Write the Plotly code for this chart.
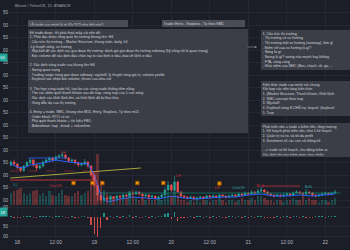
import plotly.graph_objects as go

# ---------------- data ----------------
hours = list(range(-2, 100))  # hours since 18th 00:00

opens = [26340, 26352, 26344, 26330, 26318, 26336,
         26350, 26360, 26340, 26328, 26336, 26352, 26360, 26368, 26360, 26372, 26376, 26380, 26368, 26356, 26360, 26348, 26340, 26344, 26352,
         26336, 26300, 26260, 26220, 26200, 26208, 26204, 26212,
         26208, 26216, 26212, 26220, 26216, 26228, 26224, 26232, 26224, 26216, 26220, 26212, 26216, 26208, 26212,
         26220, 26240, 26260, 26240, 26272,
         26232, 26216, 26212, 26208, 26212, 26204, 26208, 26212, 26208, 26216,
         26212, 26216, 26212, 26220, 26216, 26212, 26216, 26220, 26216, 26224,
         26220, 26228, 26224, 26232, 26228, 26236, 26240, 26232, 26224, 26220,
         26216, 26220, 26216, 26220, 26224, 26220, 26228, 26232, 26228, 26224,
         26232, 26228, 26220, 26216, 26220, 26224, 26228, 26224, 26228]
closes = [26352, 26344, 26330, 26318, 26336, 26350,
          26360, 26340, 26328, 26336, 26352, 26360, 26368, 26360, 26372, 26376, 26380, 26368, 26356, 26360, 26348, 26340, 26344, 26352, 26336,
          26300, 26260, 26220, 26200, 26208, 26204, 26212, 26208,
          26216, 26212, 26220, 26216, 26228, 26224, 26232, 26224, 26216, 26220, 26212, 26216, 26208, 26212, 26220,
          26240, 26260, 26240, 26272, 26232,
          26216, 26212, 26208, 26212, 26204, 26208, 26212, 26208, 26216, 26212,
          26216, 26212, 26220, 26216, 26212, 26216, 26220, 26216, 26224, 26220,
          26228, 26224, 26232, 26228, 26236, 26240, 26232, 26224, 26220, 26216,
          26220, 26216, 26220, 26224, 26220, 26228, 26232, 26228, 26224, 26232,
          26228, 26220, 26216, 26220, 26224, 26228, 26224, 26228, 26232]
highs = [26358, 26362, 26348, 26334, 26340, 26356,
         26368, 26364, 26346, 26342, 26358, 26366, 26374, 26372, 26380, 26384, 26392, 26384, 26372, 26366, 26364, 26354, 26350, 26364, 26356,
         26340, 26306, 26270, 26230, 26226, 26216, 26218, 26216,
         26222, 26220, 26226, 26224, 26234, 26240, 26238, 26236, 26228, 26226, 26224, 26222, 26218, 26218, 26228,
         26250, 26276, 26264, 26296, 26278,
         26236, 26220, 26216, 26218, 26216, 26214, 26218, 26216, 26222, 26220,
         26222, 26220, 26226, 26224, 26220, 26222, 26226, 26224, 26230, 26228,
         26234, 26232, 26240, 26236, 26246, 26252, 26244, 26236, 26228, 26224,
         26226, 26224, 26226, 26230, 26228, 26234, 26240, 26236, 26232, 26244,
         26236, 26232, 26224, 26226, 26230, 26234, 26232, 26234, 26240]
lows = [26334, 26338, 26322, 26310, 26312, 26332,
        26344, 26332, 26316, 26322, 26330, 26348, 26354, 26352, 26356, 26366, 26370, 26362, 26350, 26350, 26342, 26334, 26334, 26338, 26326,
        26292, 26250, 26196, 26188, 26194, 26196, 26198, 26202,
        26204, 26206, 26208, 26210, 26212, 26218, 26220, 26218, 26210, 26212, 26206, 26208, 26202, 26204, 26208,
        26216, 26236, 26232, 26236, 26226,
        26208, 26206, 26202, 26204, 26198, 26200, 26204, 26202, 26204, 26206,
        26208, 26206, 26208, 26210, 26206, 26208, 26212, 26210, 26212, 26214,
        26216, 26218, 26220, 26222, 26224, 26230, 26226, 26218, 26214, 26210,
        26212, 26210, 26212, 26216, 26214, 26216, 26224, 26222, 26218, 26220,
        26222, 26214, 26210, 26212, 26216, 26220, 26218, 26220, 26224]
volume = [7, 8, 9, 10, 7, 6,
          7, 8, 9, 6, 7, 5, 8, 6, 5, 7, 9, 6, 5, 5, 7, 8, 6, 7, 8,
          12, 20, 30, 14, 9, 7, 6, 5,
          5, 4, 6, 4, 8, 5, 4, 3, 4, 3, 4, 3, 3, 4, 3,
          5, 7, 5, 9, 6,
          3, 3, 2, 3, 2, 3, 2, 3, 3, 2,
          3, 3, 4, 3, 2, 3, 3, 2, 3, 4,
          3, 3, 4, 3, 5, 5, 4, 3, 3, 2,
          3, 3, 2, 3, 3, 4, 3, 3, 5, 3,
          4, 3, 3, 2, 3, 3, 2, 3, 4]
osc = [0.2, -0.3, -0.4, -0.3, 0.3, 0.2,
       0.3, -0.2, -0.3, 0.2, 0.3, 0.2, 0.4, -0.2, 0.3, 0.2, 0.3, -0.3, -0.3, 0.2, -0.3, -0.3, 0.2, 0.3, -0.4,
       -2.5, -5.5, -6.3, -3.5, 1.2, -1.0, 0.4, -0.3,
       0.3, -0.2, 0.4, -0.2, 0.5, -0.3, 0.3, -0.3, -0.2, 0.2, -0.3, 0.2, -0.2, 0.2, 0.4,
       0.9, 1.2, -0.8, 1.6, -1.4,
       -0.4, -0.2, -0.2, 0.2, -0.3, 0.2, 0.2, -0.2, 0.3, -0.2,
       0.2, -0.2, 0.3, -0.2, -0.2, 0.2, 0.2, -0.2, 0.3, -0.2,
       0.3, -0.2, 0.3, -0.2, 0.4, 0.3, -0.3, -0.4, -0.2, -0.2,
       0.2, -0.2, 0.2, 0.2, -0.2, 0.3, 0.3, -0.2, 0.4, -0.3,
       -0.3, -0.2, 0.2, 0.2, 0.2, -0.2, 0.2, 0.2, 0.3]

blue_h = [-2, 0, 2, 4, 8, 12, 16, 20, 22, 24, 26, 28, 32, 36, 40, 44, 48, 52, 56, 60,
          64, 68, 72, 76, 80, 84, 88, 92, 96, 99]
blue_p = [26344, 26332, 26328, 26340, 26348, 26360, 26352, 26348, 26344, 26300, 26220, 26192,
          26204, 26212, 26208, 26204, 26216, 26208, 26204, 26208, 26212, 26212, 26220, 26224,
          26216, 26216, 26220, 26216, 26220, 26224]
yellow_h = [-2.2, 38.5]
yellow_p = [26288, 26328]
red_h = [-2.2, 23.4, 23.4]
red_p = [26280, 26280, 26316]
redash_h = [-2.2, 22]
redash_p = [26316, 26316]
bluelvl_h = [3.4, 15.6]
bluelvl_p = [26368, 26368]
greenlvl_h = [24.3, 100.7]
greenlvl_p = [26228, 26228]
red2_h = [76.4, 88.2]
red2_p = [26256, 26256]

marker_h = [17.5, 23.4, 26.5, 37.4, 45.5, 63.0]
marker_p = [26268, 26268, 26268, 26268, 26268, 26266]

label_text = ["LL", "ChoCH", "LH", "LH", "LH", "ChoCH", "BoS", "BoS"]
label_h = [-0.6, 11.8, 14.3, 50.2, 62.3, 68.9, 75.7, 90.7]
label_p = [26258, 26256, 26388, 26296, 26248, 26248, 26256, 26252]
label_up = [True, False, False, False, False, True, False, True]

x_tickvals = [0, 12, 24, 36, 48, 60, 72, 84, 96]
x_ticktext = ["18", "12:00", "19", "12:00", "20", "12:00", "21", "12:00", "22"]
# left price scale: only the trailing digits are visible in the screenshot
price_ticks = [26200, 26250, 26300, 26350, 26400, 26450, 26500, 26550, 26600,
               26650, 26700, 26750, 26800, 26850, 26900, 26950]
price_ticktext = ["00", "50", "00", "50", "00", "50", "00", "50", "00",
                  "50", "00", "50", "00", "50", "00", "50"]
osc_ticks = [-6, -3, 3]
osc_ticktext = ["00", "50", "00"]
last_price_text = "50"
last_osc_text = "18"

title_text = "Bitcoin / TetherUS, 15, BINANCE"
q1_text = "Lỗi trade của mình là gì (Dc?17) như thế nào?"
q2_text = "Trader Entry , Stoploss , Tp theo SMC"
main_lines = [
    "Để trade được, thì phải thoả mãy cái nền đề:",
    "1. Phải đọc được tổng quát thị trường khung lớn: H4",
    "- Cấu trúc thị trường – Market Structure, khung tuần, daily, h4",
    "-Lý thuyết sóng, xu hướng",
    "- Wyckoff để xác định các giai đoạn thị trường: đánh giá giai đoạn thị trường sideway (kỹ năng rất là quan trọng)",
    "- Đọc volume để xác định dấu chân tay to vào lệnh ở đâu, bảo về lệnh ở đâu",
    " ",
    "2. Xác định vùng trade của khung lớn H4",
    "- Swing quan trọng",
    "- Trading range trong giai đoạn sideway: wyckoff, lý thuyết vùng giá trị, volume profile",
    "- Keylevel xác nhận bởi volume, thrust của ultra vol",
    " ",
    "3. Thu hẹp vùng trade h4, loại bỏ các vùng trade không tiềm năng",
    "- Tìm các điểm quét thanh khoản sau đó trap, vùng trap của 1 con sóng",
    "- Xác định các khối lệnh lớn, và khối lệnh đã bị khai thác",
    "- Vùng dẫn dụ của thị trường",
    " ",
    "4. Entry = trade, SMC, khung nhỏ M15, Entry, Stoploss, Tp theo m15",
    "- Order block: RTO có xn",
    "- Phá quét thanh khoản + tín hiệu FBO",
    "- Bobvolman: trap , break + volconfirm",
]
right1_lines = [
    "1. Cấu trúc thị trường",
    "- Thị trường có xu hướng",
    "- Thị trường mất xu hướng (sizeway), làm gì",
    "- Điểm vỡ của xu hướng là gì?",
    "- Sóng là gì",
    "- Swing là gì? swing nào mạnh hay không",
    "- FTA, vùng cảng",
    "- Khái niệm của SMC (Bos, chọch, sk, qa, ...",
]
right2_lines = [
    "Kiến thức trade của mình nói chung",
    "Kết hợp các nền tảng kiến thức",
    "1. (Market Structure, Thanh khoản, Khối lệnh",
    "2. SMC concept theo trap",
    "3. Wyckoff",
    "4. Keylevel vùng KC/Hỗ trợ, keyvol  (keylevel",
    "5. Trap",
]
right3_lines = [
    "Phát triển vốn = trade = kiếm tiền, tăng trưởng",
    "1. Kế hoạch phát triển vốn, như 1 kế hoạch",
    "2. Quản trị rủi ro, và tối đa profit",
    "3. Sentiment về các con số thống kê",
    " ",
    "---> trade có kế hoạch, chủ động kiếm sc",
    "Xác định khi nào kiếm được bao nhiêu",
]

# ---------------- styling ----------------
BG = "#1b1e27"
UP = "#26a69a"
DN = "#ef5350"
FONT = "Liberation Sans, Arial, sans-serif"
W, H = 350, 250
ML, MR, MT, MB = 9, 0, 0, 12
PW, PH = W - ML - MR, H - MT - MB


def px(x):
    return (x - ML) / PW


def py(y):
    return 1 - (y - MT) / PH


fig = go.Figure()

vol_colors = ["rgba(38,166,154,0.32)" if c >= o else "rgba(239,83,80,0.32)" for o, c in zip(opens, closes)]
fig.add_trace(go.Bar(x=hours, y=volume, marker=dict(color=vol_colors, line=dict(width=0)),
                     width=0.75, xaxis="x", yaxis="y3"))

fig.add_trace(go.Scatter(x=yellow_h, y=yellow_p, mode="lines", line=dict(color="#a8a53a", width=1)))
fig.add_trace(go.Scatter(x=redash_h, y=redash_p, mode="lines", line=dict(color="#8e2a30", width=0.8, dash="dash")))
fig.add_trace(go.Scatter(x=red_h, y=red_p, mode="lines", line=dict(color="#c2303a", width=1)))
fig.add_trace(go.Scatter(x=bluelvl_h, y=bluelvl_p, mode="lines", line=dict(color="#2962ff", width=0.8)))
fig.add_trace(go.Scatter(x=greenlvl_h, y=greenlvl_p, mode="lines", line=dict(color="#137a6c", width=0.8)))
fig.add_trace(go.Scatter(x=red2_h, y=red2_p, mode="lines", line=dict(color="#c2303a", width=0.8)))

fig.add_trace(go.Candlestick(x=hours, open=opens, high=highs, low=lows, close=closes,
                             increasing=dict(line=dict(color=UP, width=0.6), fillcolor=UP),
                             decreasing=dict(line=dict(color=DN, width=0.6), fillcolor=DN),
                             whiskerwidth=0))
fig.add_trace(go.Scatter(x=blue_h, y=blue_p, mode="lines", line=dict(color="#2962ff", width=1)))

fig.add_trace(go.Scatter(x=marker_h, y=marker_p, mode="markers",
                         marker=dict(symbol="square", size=3.6, color="#f0960e",
                                     line=dict(color="#8a4a00", width=0.8))))
fig.add_trace(go.Scatter(x=label_h, y=label_p, mode="text", text=label_text,
                         textfont=dict(size=3.8, family=FONT,
                                       color=[UP if u else "#c2303a" for u in label_up])))

osc_colors = ["rgba(38,166,154,0.85)" if v >= 0 else "rgba(239,83,80,0.85)" for v in osc]
fig.add_trace(go.Bar(x=hours, y=osc, marker=dict(color=osc_colors, line=dict(width=0)),
                     width=0.45, xaxis="x", yaxis="y2"))

ann = []
ann.append(dict(xref="paper", yref="paper", x=px(13), y=py(6), xanchor="left", yanchor="middle",
                text=title_text, showarrow=False, font=dict(size=3.8, color="#a3a6af", family=FONT)))


def box(x0, y0, w, h, lines, bg):
    ann.append(dict(xref="paper", yref="paper", x=px(x0), y=py(y0), xanchor="left", yanchor="top",
                    width=w - 3, height=h - 3, align="left", valign="top", bgcolor=bg, borderpad=1.5,
                    borderwidth=0, showarrow=False, text="<br>".join(lines),
                    font=dict(size=3.6, color="#d1d4dc", family=FONT)))


box(28, 20, 100, 7, [q1_text], "#4a4d56")
box(162, 20, 83, 7, [q2_text], "#4a4d56")
box(28, 29, 220, 104, main_lines, "#3b3e47")
box(261, 30, 89, 40, right1_lines, "#3b3e47")
box(261, 81, 89, 35, right2_lines, "#3b3e47")
box(261, 123, 89, 34, right3_lines, "#3b3e47")

ann.append(dict(xref="paper", yref="paper", x=px(257), y=py(47), ax=-11, ay=0, text="",
                showarrow=True, arrowhead=2, arrowsize=0.7, arrowwidth=0.6, arrowcolor="#9598a1"))

ann.append(dict(xref="paper", yref="paper", x=px(8), y=py(57), xanchor="right", yanchor="middle",
                text=last_price_text, showarrow=False, bgcolor=UP, borderpad=1.2,
                font=dict(size=4, color="#ffffff", family=FONT)))
ann.append(dict(xref="paper", yref="paper", x=px(8), y=py(212), xanchor="right", yanchor="middle",
                text=last_osc_text, showarrow=False, bgcolor=UP, borderpad=1.5,
                font=dict(size=4, color="#ffffff", family=FONT)))

GRID = "#242835"
fig.update_layout(
    width=W, height=H, margin=dict(l=ML, r=MR, t=MT, b=MB, pad=0),
    paper_bgcolor=BG, plot_bgcolor=BG, showlegend=False, template="none",
    bargap=0, annotations=ann, font=dict(family=FONT),
    xaxis=dict(domain=[0, 1], range=[-2.6, 103.7], tickvals=x_tickvals, ticktext=x_ticktext,
               tickfont=dict(size=5, color="#b2b5be"), showgrid=True, gridcolor=GRID, gridwidth=0.6,
               zeroline=False, showline=False, ticks="", anchor="y2", automargin=False,
               rangeslider=dict(visible=False)),
    yaxis=dict(domain=[33 / PH, 1], range=[26180, 27000], tickvals=price_ticks, ticktext=price_ticktext,
               tickfont=dict(size=4.5, color="#b2b5be"), showgrid=True, gridcolor=GRID, gridwidth=0.6,
               zeroline=False, showline=False, ticks="", automargin=False),
    yaxis2=dict(domain=[0, 32 / PH], range=[-6.6, 3.4], tickvals=osc_ticks, ticktext=osc_ticktext,
                tickfont=dict(size=4.5, color="#b2b5be"), showgrid=True, gridcolor=GRID, gridwidth=0.6,
                zeroline=False, showline=False, ticks="", automargin=False),
    yaxis3=dict(overlaying="y", range=[0, 120], visible=False),
)

fig.write_html("out.html")
